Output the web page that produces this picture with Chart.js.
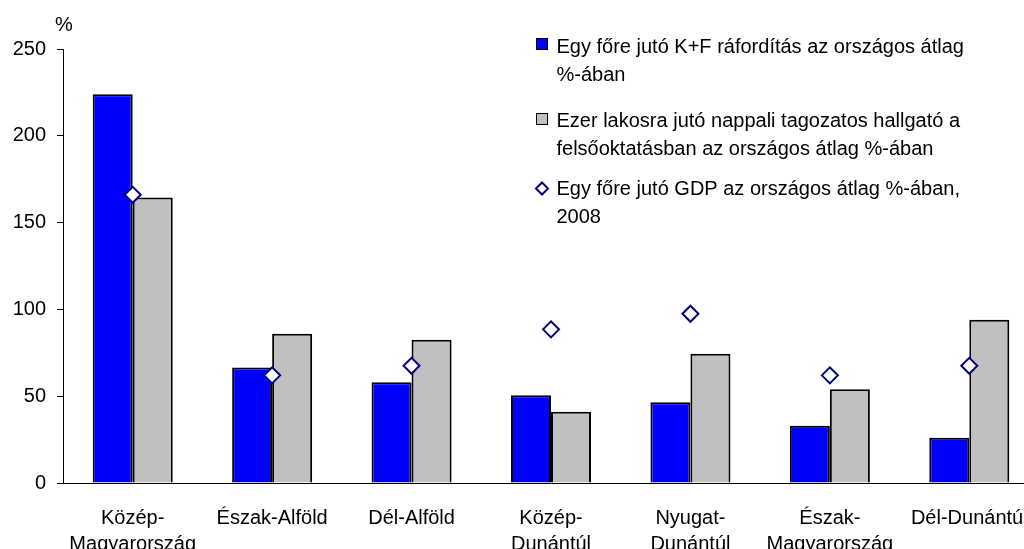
<!DOCTYPE html>
<html>
<head>
<meta charset="utf-8">
<script src="https://cdn.jsdelivr.net/npm/chart.js@4"></script>
<style>
  html, body { margin: 0; padding: 0; background: #ffffff; overflow: hidden; }
  #wrap { position: relative; width: 1060px; height: 549px; }
</style>
</head>
<body>
<div id="wrap"><canvas id="c"></canvas></div>
<script>
// ---- data ----
const categories = [
  ['Közép-', 'Magyarország'],
  ['Észak-Alföld'],
  ['Dél-Alföld'],
  ['Közép-', 'Dunántúl'],
  ['Nyugat-', 'Dunántúl'],
  ['Észak-', 'Magyarország'],
  ['Dél-Dunántúl']
];
const kfValues = [224, 66.5, 58, 50.5, 46.5, 33, 26];
const studentValues = [164.5, 86, 82.5, 41, 74.5, 54, 94];
const gdpValues = [166, 62, 67.5, 88.5, 97.5, 62, 67.5];
const yTicks = [0, 50, 100, 150, 200, 250];
const unitLabel = '%';
const legendLabels = [
  ['Egy főre jutó K+F ráfordítás az országos átlag', '%-ában'],
  ['Ezer lakosra jutó nappali tagozatos hallgató a', 'felsőoktatásban az országos átlag %-ában'],
  ['Egy főre jutó GDP az országos átlag %-ában,', '2008']
];

const FONT = '"Liberation Sans", Arial, sans-serif';
const BLUE = '#0000FF', GREY = '#C0C0C0', NAVY = '#000080';

const overlay = {
  id: 'overlay',
  afterDraw(chart) {
    const ctx = chart.ctx;
    ctx.save();
    ctx.fillStyle = '#000';
    ctx.font = '20px ' + FONT;
    ctx.textBaseline = 'alphabetic';
    ctx.textAlign = 'left';
    // unit label
    ctx.fillText(unitLabel, 55, 31);
    // legend
    const tx = 556.5;
    const baselines = [[52.5, 80.5], [127, 155], [195, 222.5]];
    legendLabels.forEach((lines, i) => {
      lines.forEach((t, j) => ctx.fillText(t, tx, baselines[i][j]));
    });
    // markers
    ctx.lineWidth = 1;
    ctx.strokeStyle = '#000';
    ctx.fillStyle = BLUE;
    ctx.fillRect(536.5, 38.5, 11, 11);
    ctx.strokeRect(536.5, 38.5, 11, 11);
    ctx.fillStyle = GREY;
    ctx.fillRect(536.5, 113.5, 11, 11);
    ctx.strokeRect(536.5, 113.5, 11, 11);
    // diamond
    const cx = 542, cy = 188.5, r = 6;
    ctx.beginPath();
    ctx.moveTo(cx, cy - r); ctx.lineTo(cx + r, cy); ctx.lineTo(cx, cy + r); ctx.lineTo(cx - r, cy); ctx.closePath();
    ctx.fillStyle = '#fff';
    ctx.fill();
    ctx.lineWidth = 2;
    ctx.strokeStyle = NAVY;
    ctx.stroke();
    ctx.restore();
  }
};

new Chart(document.getElementById('c'), {
  data: {
    labels: categories,
    datasets: [
      {
        type: 'line',
        label: legendLabels[2].join(' '),
        data: gdpValues,
        showLine: false,
        pointStyle: 'rectRot',
        pointRadius: 8,
        pointHoverRadius: 8,
        pointBackgroundColor: '#ffffff',
        pointBorderColor: NAVY,
        pointBorderWidth: 2,
        order: 0
      },
      {
        type: 'bar',
        label: legendLabels[0].join(' '),
        data: kfValues,
        backgroundColor: BLUE,
        borderColor: '#000',
        borderWidth: 2,
        barPercentage: 1,
        categoryPercentage: 0.574,
        order: 1
      },
      {
        type: 'bar',
        label: legendLabels[1].join(' '),
        data: studentValues,
        backgroundColor: GREY,
        borderColor: '#000',
        borderWidth: 2,
        barPercentage: 1,
        categoryPercentage: 0.574,
        order: 2
      }
    ]
  },
  options: {
    responsive: true,
    maintainAspectRatio: false,
    animation: false,
    layout: { padding: { left: 0, right: 21, top: 49, bottom: 0 } },
    plugins: { legend: { display: false }, tooltip: { enabled: false } },
    scales: {
      x: {
        grid: { display: false },
        border: { display: true, color: '#000', width: 1 },
        ticks: {
          color: '#000',
          font: { family: FONT, size: 20, lineHeight: 1.3 },
          padding: 14,
          maxRotation: 0,
          autoSkip: false
        },
        afterFit(scale) { scale.height = 66; }
      },
      y: {
        min: 0,
        max: 250,
        afterBuildTicks(scale) { scale.ticks = yTicks.map(v => ({ value: v })); },
        grid: { display: true, drawOnChartArea: false, drawTicks: true, tickLength: 6, color: '#000', lineWidth: 1 },
        border: { display: true, color: '#000', width: 1 },
        ticks: {
          color: '#000',
          font: { family: FONT, size: 20 },
          padding: 11
        },
        afterFit(scale) { scale.width = 63; }
      }
    }
  },
  plugins: [overlay]
});
</script>
</body>
</html>
